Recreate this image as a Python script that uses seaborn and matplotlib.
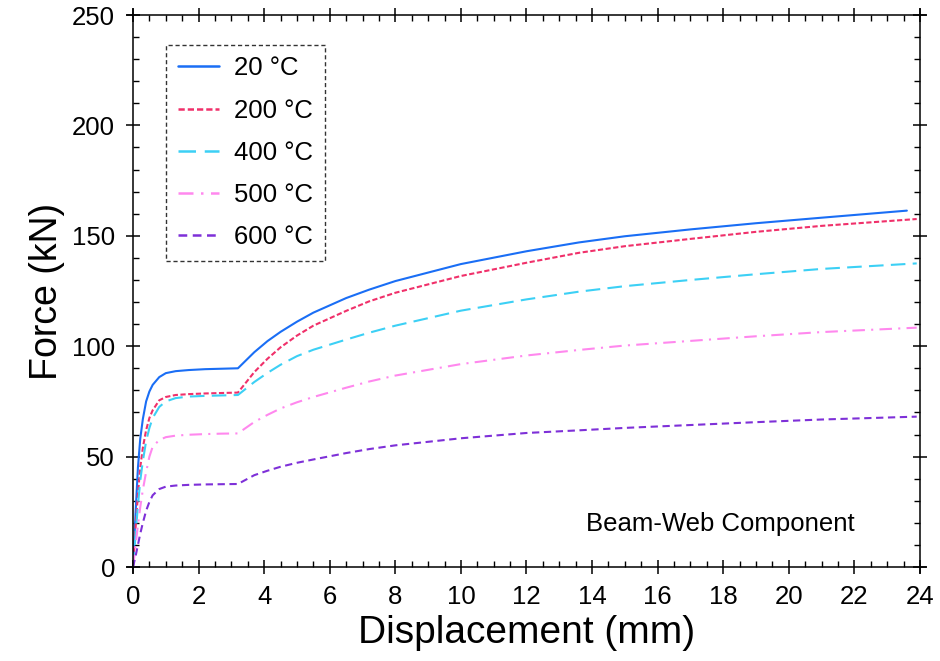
import matplotlib
matplotlib.use("Agg")
import matplotlib.pyplot as plt
import seaborn as sns
import pandas as pd
from matplotlib.ticker import MultipleLocator

# Data
disp_common = [0, 0.08, 0.15, 0.22, 0.3, 0.4, 0.5, 0.6, 0.8, 1.0, 1.3, 1.7,
               2.2, 2.7, 3.2, 3.7, 4.1, 4.5, 5.0, 5.5, 6.5, 7.2, 8, 10, 12, 13.6,
               15, 17, 19, 21]
disp_end = [23.6, 23.9, 23.9, 23.9, 23.9]
f20 = [0, 25, 45, 58, 67, 75, 79.5, 82.5, 86, 87.8, 88.7, 89.2,
       89.6, 89.8, 90, 97.3, 102.3, 106.5, 111.1, 115.2, 121.8, 125.6, 129.5, 137.2, 143.0, 147.0,
       149.8, 152.9, 155.7, 158.2, 161.4]
f200 = [0, 18, 33, 45, 54, 62, 67.5, 71, 75.5, 77, 77.9, 78.3,
        78.6, 78.8, 79, 88.3, 94.3, 99.5, 104.8, 109.3, 116.0, 120.3, 124.2, 131.8, 137.8, 142.3,
        145.3, 148.6, 151.8, 154.5, 157.6]
f400 = [0, 15, 28, 39, 48, 57, 63, 67.5, 72.5, 75, 76.5, 77.2,
        77.5, 77.7, 77.9, 83.8, 87.9, 91.6, 95.5, 98.4, 103.0, 106.1, 109.3, 116.1, 121.2, 124.7,
        127.2, 130, 132.6, 135, 137.5]
f500 = [0, 10, 19, 27, 35, 43, 50, 54.5, 57.5, 58.8, 59.5, 59.9,
        60.2, 60.4, 60.5, 65.7, 68.9, 71.8, 74.6, 77.0, 81.2, 84.0, 86.7, 91.9, 95.8, 98.3,
        100.3, 102.4, 104.5, 106.4, 108.4]
f600 = [0, 5, 10, 15, 20, 25.5, 29.5, 32.5, 35.3, 36.4, 36.9, 37.2,
        37.4, 37.5, 37.6, 41.6, 43.6, 45.4, 47.2, 48.7, 51.6, 53.4, 55.1, 58.3, 60.7, 61.9,
        63, 64.3, 65.6, 66.8, 68.1]
labels = ["20 °C", "200 °C", "400 °C", "500 °C", "600 °C"]
series = [f20, f200, f400, f500, f600]

colors = ["#1a6ef5", "#f0306a", "#3cd0f5", "#ff88ee", "#7e30d8"]
dashes = [None, (2.5, 1.2), (7, 3.5), (6, 3, 1, 3), (3.5, 2.2)]

sns.set_theme(style="ticks")
plt.rcParams["font.family"] = ["Liberation Sans", "DejaVu Sans"]
plt.rcParams["text.color"] = "black"
plt.rcParams["axes.labelcolor"] = "black"
plt.rcParams["xtick.color"] = "black"
plt.rcParams["ytick.color"] = "black"

fig = plt.figure(figsize=(9.4, 6.61), dpi=100)
ax = fig.add_axes([0.1415, 0.1422, 0.8372, 0.8351])

for lab, vals, c, d, xe in zip(labels, series, colors, dashes, disp_end):
    df = pd.DataFrame({"Displacement": disp_common + [xe], "Force": vals})
    sns.lineplot(data=df, x="Displacement", y="Force", ax=ax, color=c,
                 lw=1.5, label=lab, sort=False, estimator=None)
    line = ax.get_lines()[-1]
    if d is not None:
        line.set_dashes(d)

ax.set_xlim(0, 24)
ax.set_ylim(0, 250)
ax.xaxis.set_major_locator(MultipleLocator(2))
ax.xaxis.set_minor_locator(MultipleLocator(0.5))
ax.yaxis.set_major_locator(MultipleLocator(50))
ax.yaxis.set_minor_locator(MultipleLocator(10))
ax.tick_params(which="major", direction="inout", length=10, width=1.1,
               labelsize=18.5, top=True, right=True, pad=8)
ax.tick_params(which="minor", direction="in", length=4.5, width=1.0,
               top=True, right=True)
for s in ax.spines.values():
    s.set_linewidth(1.1)
    s.set_color("black")
ax.spines["bottom"].set_bounds(-0.18, 24.18)
ax.spines["top"].set_bounds(-0.18, 24.18)
ax.spines["left"].set_bounds(-2.7, 252.7)
ax.spines["right"].set_bounds(-2.7, 252.7)

ax.set_xlabel("Displacement (mm)", fontsize=28, labelpad=4)
ax.set_ylabel("Force (kN)", fontsize=27, labelpad=5)

leg = ax.legend(loc="upper left", bbox_to_anchor=(0.042, 0.946), fontsize=18.5,
                handlelength=1.6, handletextpad=0.6, labelspacing=0.71,
                borderpad=0.45, borderaxespad=0, fancybox=False, frameon=True)
fr = leg.get_frame()
fr.set_edgecolor("black")
fr.set_linestyle((0, (3, 2)))
fr.set_linewidth(1.0)
for h in leg.get_lines():
    h.set_linewidth(1.8)

ax.text(0.917, 0.078, "Beam-Web Component", transform=ax.transAxes,
        ha="right", va="center", fontsize=18.5)

fig.savefig("out.png", dpi=100)
